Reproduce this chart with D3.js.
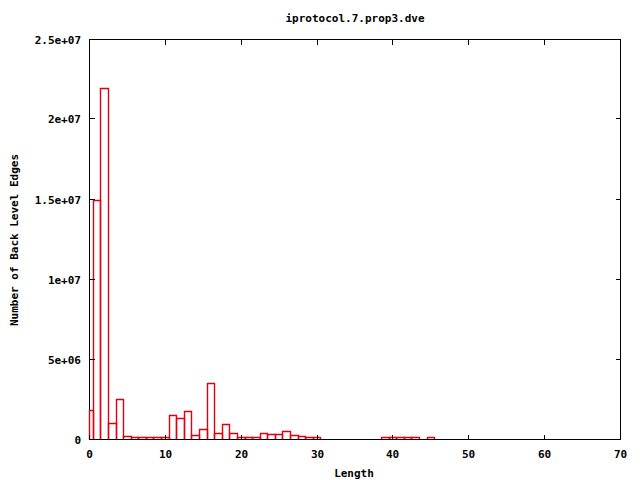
<!DOCTYPE html>
<html>
<head>
<meta charset="utf-8">
<script src="https://cdn.jsdelivr.net/npm/d3@7"></script>
<style>
  body { margin: 0; background: #fff; }
  text { font-family: "DejaVu Sans Mono", monospace; font-weight: bold; font-size: 11px; fill: #000; }
</style>
</head>
<body>
<svg width="640" height="480"></svg>
<script>
const title = "iprotocol.7.prop3.dve",
	xTitle = "Length",
	yTitle = "Number of Back Level Edges";

// histogram: length -> number of back level edges
const lengths = d3.range(0, 46);
const edges = [
	1.8e6, 14.9e6, 21.9e6, 0.95e6, 2.45e6, 0.14e6, 0.08e6, 0.08e6, 0.08e6, 0.08e6,
	0.08e6, 1.47e6, 1.28e6, 1.72e6, 0.22e6, 0.6e6, 3.47e6, 0.34e6, 0.9e6, 0.34e6,
	0.1e6, 0.09e6, 0.09e6, 0.34e6, 0.28e6, 0.28e6, 0.45e6, 0.22e6, 0.14e6, 0.07e6,
	0.07e6, 0, 0, 0, 0, 0, 0, 0, 0, 0.07e6,
	0.07e6, 0.07e6, 0.07e6, 0.07e6, 0, 0.12e6
];
const xTicks = [0, 10, 20, 30, 40, 50, 60, 70];
const yTicks = [0, 5e6, 1e7, 1.5e7, 2e7, 2.5e7];
const yTickLabels = ["0", "5e+06", "1e+07", "1.5e+07", "2e+07", "2.5e+07"];

const svg = d3.select("svg"),
	mLeft = 89.5, mRight = 620.5, mTop = 39.5, mBottom = 439.5;

const x = d3.scaleLinear().domain([0, 70]).range([mLeft, mRight]).clamp(true);
const y = d3.scaleLinear().domain([0, 2.5e7]).range([mBottom, mTop]);

// frame
svg.append("rect")
	.attr("x", mLeft).attr("y", mTop)
	.attr("width", mRight - mLeft).attr("height", mBottom - mTop)
	.attr("fill", "none").attr("stroke", "#000")
	.attr("shape-rendering", "crispEdges");

const x0 = function(d) { return Math.floor(x(d - 0.5)); };
const x1 = function(d) { return Math.floor(x(d + 0.5)); };

// one path per box outline
svg.append("g")
	.selectAll("path")
	.data(lengths.filter(function(d) { return edges[d] > 0; }))
	.enter().append("path")
	.attr("d", function(d) {
		const l = x0(d) + 0.5, r = x1(d) + 0.5,
			t = Math.round(y(edges[d])) - 0.5, b = Math.floor(mBottom) + 0.5;
		return "M" + l + "," + b + "V" + t + "H" + r + "V" + b;
	})
	.attr("fill", "none")
	.attr("stroke", "#e00010")
	.attr("stroke-width", 1.4);

const ticks = svg.append("g").attr("stroke", "#000").attr("shape-rendering", "crispEdges");
ticks.append("line").attr("x1", mLeft).attr("x2", mRight).attr("y1", mBottom).attr("y2", mBottom);
xTicks.forEach(function(t) {
	const px = Math.floor(x(t)) + 0.5;
	ticks.append("line").attr("x1", px).attr("x2", px).attr("y1", mBottom).attr("y2", mBottom - 5);
	ticks.append("line").attr("x1", px).attr("x2", px).attr("y1", mTop).attr("y2", mTop + 5);
	svg.append("text").attr("x", px).attr("y", 458).attr("text-anchor", "middle").text(t);
});
yTicks.forEach(function(t, i) {
	const py = Math.round(y(t)) - 0.5;
	ticks.append("line").attr("x1", mLeft).attr("x2", mLeft + 5).attr("y1", py).attr("y2", py);
	ticks.append("line").attr("x1", mRight).attr("x2", mRight - 5).attr("y1", py).attr("y2", py);
	svg.append("text").attr("x", 81).attr("y", py + 4).attr("text-anchor", "end").text(yTickLabels[i]);
});

svg.append("text").attr("x", 355).attr("y", 22).attr("text-anchor", "middle").text(title);
svg.append("text").attr("x", 354).attr("y", 477).attr("text-anchor", "middle").text(xTitle);
svg.append("text")
	.attr("transform", "translate(18,240) rotate(-90)")
	.attr("text-anchor", "middle").text(yTitle);
</script>
</body>
</html>
